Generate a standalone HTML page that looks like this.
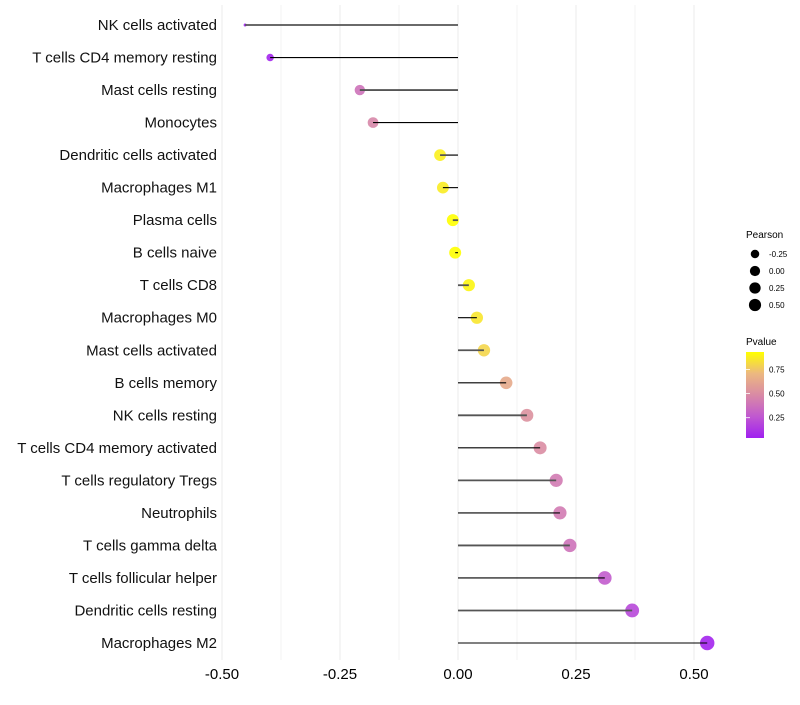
<!DOCTYPE html>
<html><head><meta charset="utf-8"><style>
body{margin:0;background:#fff;font-family:"Liberation Sans",sans-serif;}
</style></head><body>
<svg id="chart" width="800" height="700" xmlns="http://www.w3.org/2000/svg">
<defs><linearGradient id="pg" x1="0" y1="1" x2="0" y2="0">
<stop offset="0" stop-color="#a020f0"/><stop offset="0.25" stop-color="#c058d0"/><stop offset="0.5" stop-color="#d98aa5"/><stop offset="0.75" stop-color="#ecb880"/><stop offset="1" stop-color="#ffff00"/></linearGradient></defs>
<g id="grid"></g><g id="dots"></g><g id="marks"></g><g id="labels"></g>
<g font-size="9" fill="#000">
<text x="746" y="238" font-size="10">Pearson</text>
<g id="sizeleg"></g>
<text x="746" y="345" font-size="10">Pvalue</text>
<rect x="746" y="352" width="18" height="86" fill="url(#pg)"/>
<g id="colleg"></g>
</g>
</svg>
<script>
const categories=["NK cells activated","T cells CD4 memory resting","Mast cells resting","Monocytes","Dendritic cells activated","Macrophages M1","Plasma cells","B cells naive","T cells CD8","Macrophages M0","Mast cells activated","B cells memory","NK cells resting","T cells CD4 memory activated","T cells regulatory  Tregs ","Neutrophils","T cells gamma delta","T cells follicular helper","Dendritic cells resting","Macrophages M2"];
const pearson=[-0.451,-0.398,-0.208,-0.180,-0.038,-0.032,-0.011,-0.006,0.023,0.040,0.055,0.102,0.146,0.174,0.208,0.216,0.237,0.311,0.369,0.528];
const pvalue=[0.04,0.06,0.38,0.47,0.88,0.87,0.93,0.93,0.90,0.85,0.80,0.64,0.52,0.50,0.42,0.42,0.38,0.28,0.20,0.06];
const xTicks=[-0.5,-0.25,0,0.25,0.5];
const xTickLabels=["-0.50","-0.25","0.00","0.25","0.50"];
const sizeLegend=[-0.25,0,0.25,0.5];
const sizeLegendLabels=["-0.25","0.00","0.25","0.50"];
const colLegend=[0.25,0.5,0.75];
const colLegendLabels=["0.25","0.50","0.75"];
const NS="http://www.w3.org/2000/svg";
const X=v=>458+v*472;
const Y=i=>25+i*(618/19);
const pmin=Math.min(...pvalue),pmax=Math.max(...pvalue);
const smin=Math.min(...pearson),smax=Math.max(...pearson);
function R(v){const t=Math.max(0,(v-smin)/(smax-smin));return Math.sqrt(2.25+Math.pow(t,0.5)*50);}
const stops=[[160,32,240],[192,88,208],[217,138,165],[236,184,128],[255,255,0]];
function C(p){let t=(p-pmin)/(pmax-pmin);t=Math.max(0,Math.min(1,t))*4;const i=Math.min(3,Math.floor(t)),f=t-i;const a=stops[i],b=stops[i+1];return `rgb(${a.map((c,k)=>Math.round(c+(b[k]-c)*f)).join(',')})`;}
function mk(tag,at,par){const e=document.createElementNS(NS,tag);for(const k in at)e.setAttribute(k,at[k]);par.appendChild(e);return e;}
const grid=document.getElementById('grid'),marks=document.getElementById('marks'),labels=document.getElementById('labels'),dots=document.getElementById('dots');
for(let v=-0.5;v<=0.5001;v+=0.125){const g=mk('line',{x1:X(v),x2:X(v),y1:5,y2:660,stroke:'#ebebeb','stroke-width':Math.abs(v*4-Math.round(v*4))<1e-6?1:0.6},grid);

}
xTicks.forEach((v,i)=>{const t=mk('text',{x:X(v),y:679,'text-anchor':'middle','font-size':15,fill:'#000'},labels);t.textContent=xTickLabels[i];

});
categories.forEach((c,i)=>{const y=Y(i);
const d=mk('circle',{cx:X(pearson[i]),cy:y,r:R(pearson[i]),fill:C(pvalue[i]),'fill-opacity':0.9},dots);


const l=mk('line',{x1:X(0),x2:X(pearson[i]),y1:y,y2:y,stroke:i%2?'#000':'#555','stroke-width':i%2?1.1:1.8},marks);


const t=mk('text',{x:217,y:y+5,'text-anchor':'end','font-size':15,fill:'#111'},labels);t.textContent=c;

});
const sl=document.getElementById('sizeleg');
sizeLegend.forEach((v,i)=>{const y=254+i*17;const c=mk('circle',{cx:755,cy:y,r:R(v)*0.85,fill:'#000'},sl);


const t=mk('text',{x:769,y:y+3,'font-size':8},sl);t.textContent=sizeLegendLabels[i];

});
const cl=document.getElementById('colleg');
colLegend.forEach((v,i)=>{const y=438-(v-pmin)/(pmax-pmin)*86;
const tk=mk('line',{x1:746,x2:750,y1:y,y2:y,stroke:'#fff','stroke-width':0.8},cl);


const t=mk('text',{x:769,y:y+3,'font-size':8},cl);t.textContent=colLegendLabels[i];

});
</script>
</body></html>
